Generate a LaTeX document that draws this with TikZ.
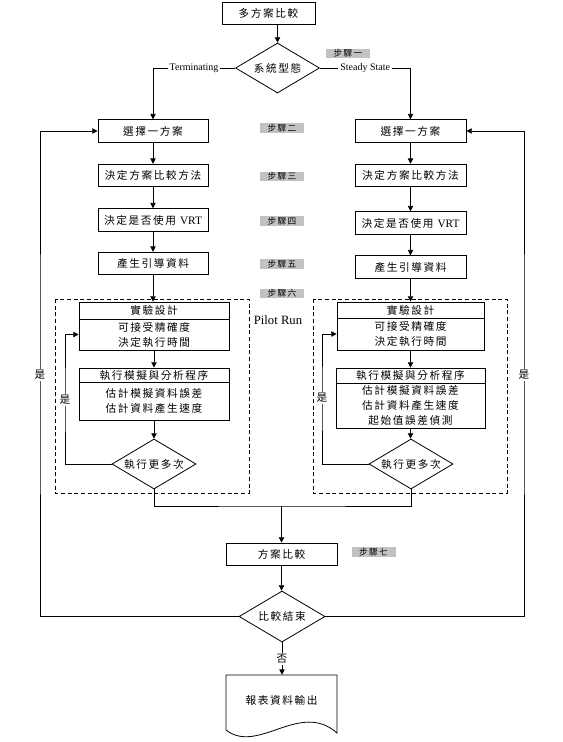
\documentclass[tikz,border=0pt]{standalone}
\usepackage{fontspec}
\usepackage{tikz}
\usetikzlibrary{shapes.geometric,arrows.meta}
\setmainfont{Liberation Serif}
\newfontfamily\cjk[LetterSpace=15]{Noto Sans CJK TC}
\newcommand{\flowfont}{\fontsize{8}{11.25}\selectfont\cjk}
\newcommand{\stepfont}{\fontsize{6.5}{6.5}\selectfont\cjk}
\definecolor{stepgray}{rgb}{0.76,0.76,0.76}

\tikzset{
  procbox/.style={draw, line width=0.6pt, inner sep=0pt, align=center,
    minimum width=82.5pt, minimum height=17pt, font=\flowfont},
  decision/.style={diamond, draw, line width=0.6pt, inner sep=0pt, aspect=1.7,
    minimum width=63pt, minimum height=37.5pt, font=\flowfont},
  steplabel/.style={fill=stepgray, inner sep=0pt, minimum width=33pt,
    minimum height=7pt, font=\stepfont},
  arr/.style={-{Triangle[length=4pt,width=4pt]}, line width=0.6pt},
  flowline/.style={line width=0.6pt},
  yeslabel/.style={fill=white, inner sep=1pt, font=\flowfont},
  latinlabel/.style={fill=white, inner sep=1.5pt, font=\fontsize{7.5}{8}\selectfont}
}

\begin{document}
\begin{tikzpicture}[x=0.75pt, y=-0.75pt]
    \useasboundingbox (0,0) rectangle (563,742);

    % Start and step 1
    \node[procbox, minimum width=69.75pt] (start) at (268.5,13.5) {多方案比較};
    \node[decision] (sys) at (277.5,68) {系統型態};
    \node[steplabel] (s1) at (348,53.5) {步驟一};

    % Step labels 2--6
    \node[steplabel] (s2) at (282,128) {步驟二};
    \node[steplabel] (s3) at (282,176.5) {步驟三};
    \node[steplabel] (s4) at (282,221) {步驟四};
    \node[steplabel] (s5) at (282,264) {步驟五};
    \node[steplabel] (s6) at (282,293.5) {步驟六};

    % Left column (terminating)
    \node[procbox] (selL) at (153,131) {選擇一方案};
    \node[procbox] (methL) at (153,175.5) {決定方案比較方法};
    \node[procbox] (vrtL) at (153,220) {決定是否使用\hspace{3pt}{\rmfamily\fontsize{8.5}{9}\selectfont VRT}};
    \node[procbox] (genL) at (153,263.5) {產生引導資料};

    % Right column (steady state)
    \node[procbox, minimum width=83.25pt] (selR) at (410.5,131) {選擇一方案};
    \node[procbox, minimum width=83.25pt] (methR) at (410.5,175.5) {決定方案比較方法};
    \node[procbox, minimum width=83.25pt] (vrtR) at (410.5,223) {決定是否使用\hspace{3pt}{\rmfamily\fontsize{8.5}{9}\selectfont VRT}};
    \node[procbox, minimum width=83.25pt] (genR) at (410.5,267) {產生引導資料};

    % Pilot run, left
    \draw[flowline, dash pattern=on 3pt off 2pt] (55,299) rectangle (249,493);
    \node[procbox, minimum width=112.5pt, minimum height=12.75pt] (desL) at (154,310.5) {實驗設計};
    \node[procbox, minimum width=112.5pt, minimum height=23.25pt] (desLb) at (154,334.5) {可接受精確度\\決定執行時間};
    \node[procbox, minimum width=112.5pt, minimum height=10.5pt] (simL) at (154,375) {執行模擬與分析程序};
    \node[procbox, minimum width=112.5pt, minimum height=28.5pt] (simLb) at (154,401) {估計模擬資料誤差\\估計資料產生速度};
    \node[decision] (runL) at (154,464) {執行更多次};

    % Pilot run, right
    \draw[flowline, dash pattern=on 3pt off 2pt] (313,299) rectangle (507,493);
    \node[procbox, minimum width=110.25pt, minimum height=12pt] (desR) at (410.5,310) {實驗設計};
    \node[procbox, minimum width=110.25pt, minimum height=24pt] (desRb) at (410.5,334) {可接受精確度\\決定執行時間};
    \node[procbox, minimum width=111.75pt, minimum height=11.25pt] (simR) at (410.5,375.5) {執行模擬與分析程序};
    \node[procbox, minimum width=111.75pt, minimum height=33.75pt] (simRb) at (410.5,405.5) {估計模擬資料誤差\\估計資料產生速度\\起始值誤差偵測};
    \node[decision] (runR) at (411,464) {執行更多次};

    \node[font=\fontsize{9.5}{10}\selectfont, inner sep=0pt] (pilot) at (278,320) {Pilot Run};

    % Step 7 and output
    \node[procbox, minimum width=83.25pt, minimum height=16.5pt] (cmp) at (281.5,554) {方案比較};
    \node[steplabel] (s7) at (373.5,552) {步驟七};
    \node[decision, minimum width=64.5pt, minimum height=38.25pt] (endc) at (282,616.5) {比較結束};
    \node[minimum width=83.25pt, minimum height=37.5pt, inner sep=0pt, font=\flowfont] (report) at (281.5,700) {報表資料輸出};
    \draw[flowline] (226,675) -- (226,730) .. controls (258,755) and (300,700) .. (337,733) -- (337,675) -- cycle;

    % Connectors
    \draw[arr] (start.south -| sys.north) -- (sys.north);
    \draw[arr] (sys.west) -| node[pos=0.25, latinlabel] (term) {Terminating} (selL.north);
    \draw[arr] (sys.east) -| node[pos=0.25, latinlabel] (steady) {Steady State} (selR.north);
    \foreach \a/\b in {selL/methL, methL/vrtL, vrtL/genL, genL/desL, desLb/simL, simLb/runL,
                       selR/methR, methR/vrtR, vrtR/genR, genR/desR, desRb/simR, simRb/runR}
        \draw[arr] (\a.south) -- (\a.south |- \b.north);

    % Inner loops
    \coordinate (loopL) at (65,400);
    \coordinate (loopR) at (322,398);
    \draw[arr] (runL.west) -| (loopL) |- (desLb.west);
    \draw[arr] (runR.west) -| (loopR) |- (desRb.west);
    \node[yeslabel] (yesL) at (loopL) {是};
    \node[yeslabel] (yesR) at (loopR) {是};

    % Merge
    \coordinate (joint) at (281.5,506);
    \draw[flowline] (runL.south) |- (joint) -| (runR.south);
    \draw[arr] (joint) -- (cmp.north);
    \draw[arr] (cmp.south) -- (cmp.south |- endc.north);

    % Outer loops
    \coordinate (backL) at (40,375);
    \coordinate (backR) at (524,375);
    \draw[arr] (endc.west) -| (backL) |- (selL.west);
    \draw[arr] (endc.east) -| (backR) |- (selR.east);
    \node[yeslabel] (yesBL) at (backL) {是};
    \node[yeslabel] (yesBR) at (backR) {是};

    \draw[arr] (endc.south) -- node[yeslabel] (no) {否} (endc.south |- report.north);
\end{tikzpicture}
\end{document}
